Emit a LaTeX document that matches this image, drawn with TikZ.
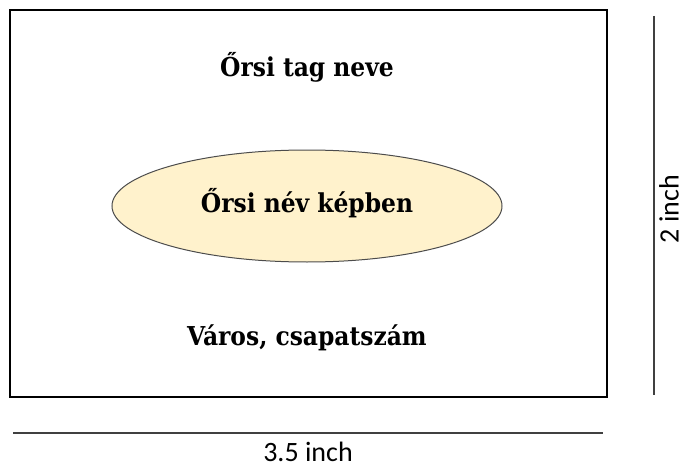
\documentclass[tikz,border=0pt]{standalone}
\usepackage{fontspec}
\usepackage{tikz}
\usetikzlibrary{positioning, shapes.geometric}
\newfontfamily\slabfont{DejaVu Serif Condensed}
\newfontfamily\dimfont{Carlito}
\definecolor{lightyellow}{HTML}{FFF2CC}

\begin{document}
\begin{tikzpicture}[x=1pt, y=-1pt,
    label text/.style={font=\slabfont\fontsize{26}{30}\selectfont\bfseries, anchor=base},
    dim text/.style={font=\dimfont\fontsize{28}{33}\selectfont, inner sep=0pt},
    dim line/.style={draw=black!75, line width=1.2pt}
]
\useasboundingbox (0,0) rectangle (685,468);
% Card
\node[draw, line width=1.2pt, minimum width=597pt, minimum height=387pt, inner sep=0pt] (card) at (308.5,203.5) {};
\node[ellipse, draw=black!70, fill=lightyellow, line width=1pt, minimum width=390pt, minimum height=112pt, inner sep=0pt] (photo) at (307,206) {};

% Texts
\node[label text] (name) at (307,77) {Őrsi tag neve};
\node[label text] (picname) at (307,212) {Őrsi név képben};
\node[label text] (city) at (307,345) {Város, csapatszám};

% Dimensions
\coordinate (wl) at (13,433);
\coordinate (wr) at (603,433);
\draw[dim line] (wl) -- node[below=8pt, dim text] (width) {3.5 inch} (wr);
\coordinate (ht) at (654,16);
\coordinate (hb) at (654,395);
\draw[dim line] (ht) -- (hb);
\node[rotate=90, anchor=north, dim text] (height) at (659,209) {2 inch};
\end{tikzpicture}
\end{document}
